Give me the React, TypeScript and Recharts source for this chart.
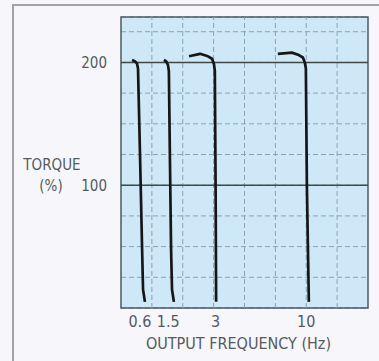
import React from "react";
import {
  LineChart,
  Line,
  XAxis,
  YAxis,
  CartesianGrid,
  ReferenceLine,
  ReferenceArea,
  Label,
} from "recharts";

// output frequency ticks (Hz) and their labels
const FREQ_TICKS = [0.6, 1.5, 3, 10];
const FREQ_LABELS = ["0.6", "1.5", "3", "10"];

// torque ticks (%): gridlines every 25, labels only on 100 and 200
const TORQUE_TICKS = [0, 25, 50, 75, 100, 125, 150, 175, 200, 225];
const TORQUE_LABELS = [100, 200];
const SOLID_LINES = [100, 200];

// curves: frequency (Hz) and torque (%)
const HZ_06 = [0.35, 0.44, 0.51, 0.54, 0.6, 0.67, 0.7, 0.76];
const TQ_06 = [202, 201, 199, 195, 129, 48, 15, 5];

const HZ_15 = [1.36, 1.43, 1.49, 1.52, 1.55, 1.59, 1.62, 1.68];
const TQ_15 = [202, 201, 198, 193, 129, 48, 15, 5];

const HZ_3 = [2.16, 2.51, 2.76, 2.89, 2.95, 2.98, 3.01, 3.05];
const TQ_3 = [205, 207, 205, 203, 199, 193, 99, 5];

const HZ_10 = [7.81, 8.89, 9.43, 9.74, 9.89, 9.97, 10.05, 10.2];
const TQ_10 = [207, 208, 206, 204, 200, 195, 99, 5];

// the printed axis is linear up to 3 Hz and squeezed above it
const freqToAxis = (hz: number) => (hz <= 3 ? hz * 1.02 : 3.06 + (hz - 3) * 0.42);

const toSeries = (hz: number[], tq: number[]) =>
  hz.map((h, i) => ({ x: freqToAxis(h), torque: tq[i] }));

const curves = [
  toSeries(HZ_06, TQ_06),
  toSeries(HZ_15, TQ_15),
  toSeries(HZ_3, TQ_3),
  toSeries(HZ_10, TQ_10),
];

const GRID_COLS = [1, 2, 3, 4, 5, 6, 7];
const FONT = "'Liberation Sans Narrow', 'DejaVu Sans Condensed', 'Liberation Sans', sans-serif";
const TEXT = "#555a5e";
const GRID = "#86a3b7";

export default function App() {
  return (
    <div
      style={{
        position: "fixed",
        left: 0,
        top: 0,
        width: 379,
        height: 361,
        background: "#f6f6fb",
        overflow: "hidden",
        fontFamily: FONT,
      }}
    >
      <div
        style={{
          position: "absolute",
          left: 12,
          top: 4,
          right: -4,
          bottom: -4,
          border: "2px solid #a2a2a8",
        }}
      />
      <div style={{ position: "absolute", left: 0, top: 0 }}>
        <LineChart width={379} height={361} margin={{ top: 17, right: 11, bottom: 23, left: 0 }}>
          <CartesianGrid
            vertical={false}
            fill="#cfe8f7"
            fillOpacity={1}
            stroke={GRID}
            strokeDasharray="5 3"
          />
          <XAxis
            type="number"
            dataKey="x"
            domain={[0, 8]}
            ticks={FREQ_TICKS.map(freqToAxis)}
            tickFormatter={(_v: number, i: number) => FREQ_LABELS[i]}
            tickLine={false}
            axisLine={false}
            height={30}
            tick={{ fill: TEXT, fontSize: 16, fontFamily: FONT }}
          >
            <Label
              content={({ viewBox }: any) => (
                <text
                  x={viewBox.x + viewBox.width / 2 - 6}
                  y={viewBox.y + 41}
                  textAnchor="middle"
                  fill={TEXT}
                  fontSize={16}
                  fontFamily={FONT}
                >
                  OUTPUT FREQUENCY (Hz)
                </text>
              )}
            />
          </XAxis>
          <YAxis
            type="number"
            domain={[0, 237]}
            allowDataOverflow
            ticks={TORQUE_TICKS}
            tickFormatter={(v: number) => (TORQUE_LABELS.includes(v) ? String(v) : "")}
            tickLine={false}
            axisLine={false}
            width={121}
            tickMargin={8}
            tick={{ fill: TEXT, fontSize: 15, fontFamily: FONT }}
          >
            <Label
              content={({ viewBox }: any) => (
                <g fill={TEXT} fontSize={15} fontFamily={FONT}>
                  <text x={52} y={viewBox.y + 153} textAnchor="middle">
                    TORQUE
                  </text>
                  <text x={51} y={viewBox.y + 174} textAnchor="middle">
                    (%)
                  </text>
                </g>
              )}
            />
          </YAxis>
          {GRID_COLS.map((c) => (
            <ReferenceLine key={"c" + c} x={c} stroke={GRID} strokeDasharray="5 3" />
          ))}
          {SOLID_LINES.map((v) => (
            <ReferenceLine key={v} y={v} stroke="#3f4a48" strokeWidth={1.5} />
          ))}
          <ReferenceArea
            x1={0}
            x2={8}
            y1={0}
            y2={237}
            fill="none"
            stroke="#4d5862"
            strokeWidth={1.5}
          />
          {curves.map((data, i) => (
            <Line
              key={i}
              data={data}
              dataKey="torque"
              type="linear"
              stroke="#161616"
              strokeWidth={2.7}
              strokeLinejoin="round"
              dot={false}
              isAnimationActive={false}
            />
          ))}
        </LineChart>
      </div>
    </div>
  );
}
